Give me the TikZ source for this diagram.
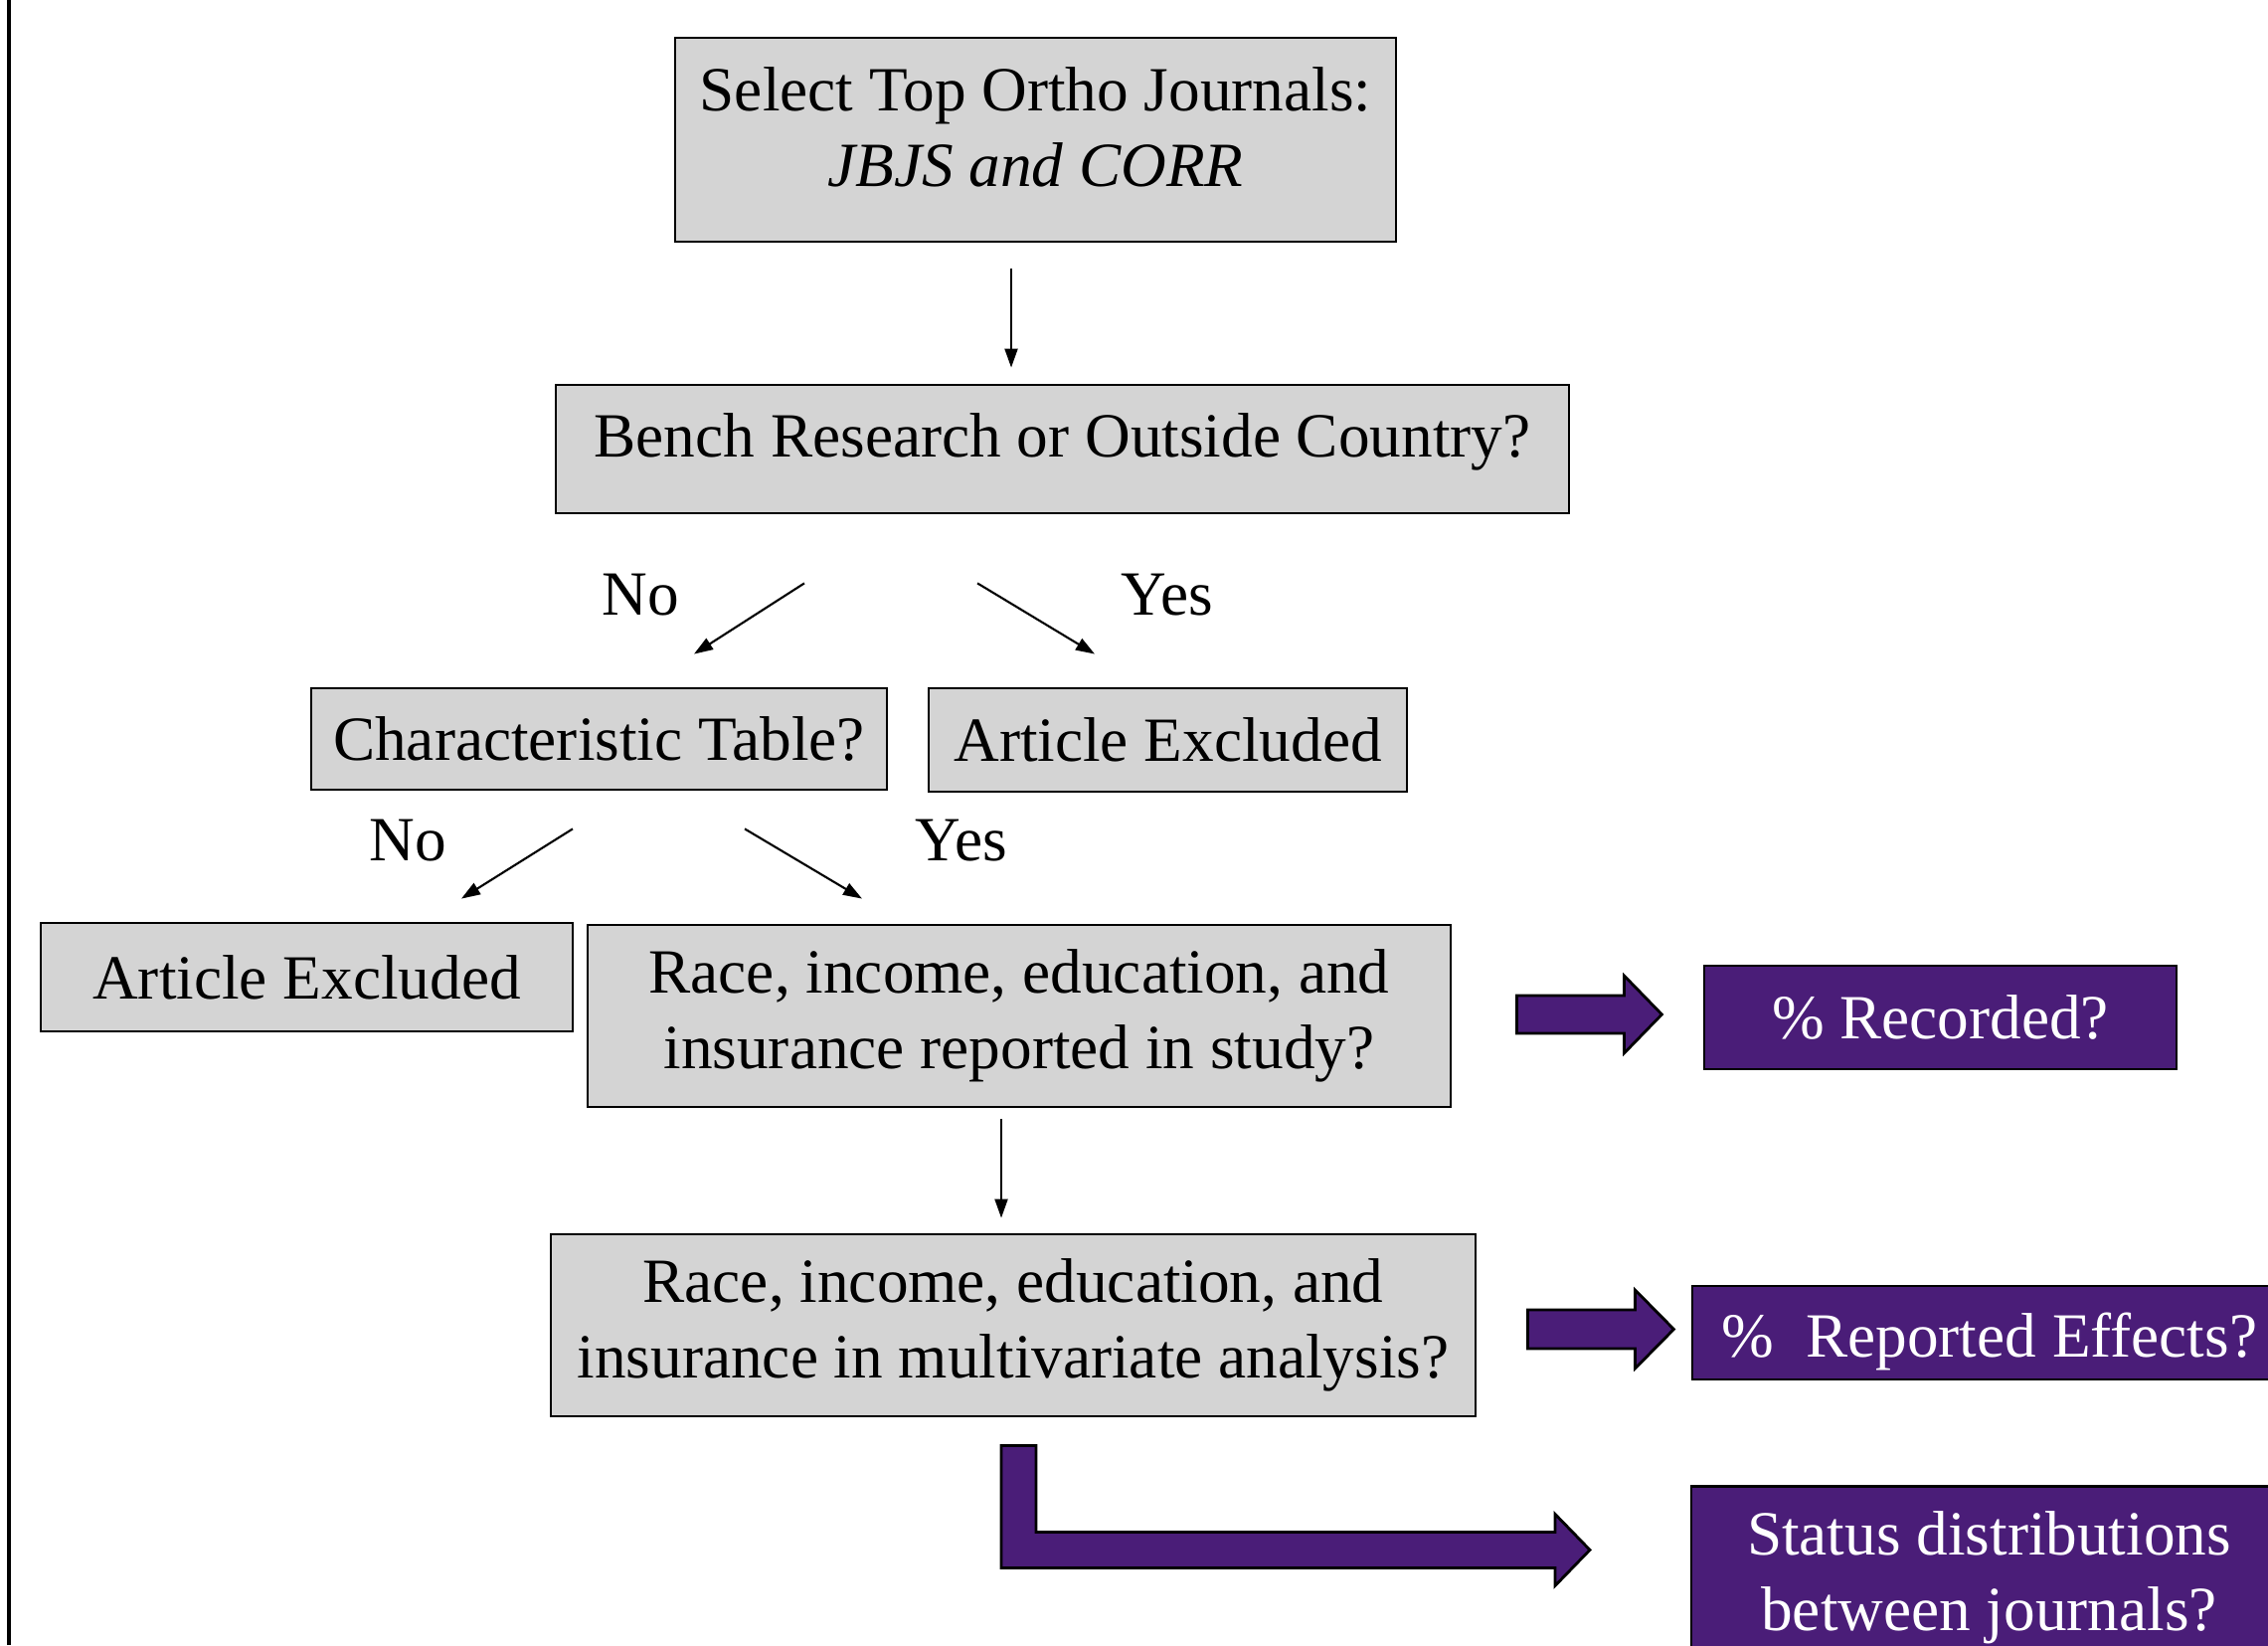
\documentclass[tikz,border=0pt]{standalone}
\usepackage{fontspec}
\setmainfont{Liberation Serif}
\usetikzlibrary{arrows.meta}
\definecolor{boxgray}{RGB}{212,212,212}
\definecolor{studypurple}{RGB}{74,29,120}

\begin{document}
\begin{tikzpicture}[
    font=\fontsize{18}{21.6}\selectfont,
    graybox/.style={draw,line width=0.8pt,fill=boxgray,inner sep=0pt,align=center},
    purplebox/.style={draw,line width=0.8pt,fill=studypurple,text=white,inner sep=0pt,align=center},
    thinarrow/.style={line width=0.6pt,-{Triangle[length=0.19cm,width=0.13cm]}},
    blockarrow/.style={draw,line width=0.8pt,fill=studypurple,line join=miter}
  ]
  \useasboundingbox (0,0) rectangle (22.81,16.54);
  \draw [line width=1.2pt] (0.09,0) -- (0.09,16.54);

  % grey flow boxes
  \node [graybox,minimum width=7.25cm,minimum height=2.05cm,text height=33.9pt,text depth=7.4pt]
     (journals) at (10.415,15.135)
     {Select Top Ortho Journals:\\ \textit{JBJS and CORR}};
  \node [graybox,minimum width=10.19cm,minimum height=1.29cm,text height=12.3pt,text depth=7.9pt]
     (bench) at (10.685,12.025)
     {Bench Research or Outside Country?};
  \node [graybox,minimum width=5.79cm,minimum height=1.02cm] (chartable) at (6.025,9.11)
     {Characteristic Table?};
  \node [graybox,minimum width=4.81cm,minimum height=1.04cm] (excluded1) at (11.745,9.10)
     {Article Excluded};
  \node [graybox,minimum width=5.35cm,minimum height=1.09cm] (excluded2) at (3.085,6.715)
     {Article Excluded};
  \node [graybox,minimum width=8.68cm,minimum height=1.83cm] (reported) at (10.25,6.325)
     {Race, income, education, and\\ insurance reported in study?};
  \node [graybox,minimum width=9.30cm,minimum height=1.83cm] (multivar) at (10.19,3.215)
     {Race, income, education, and\\ insurance in multivariate analysis?};

  % purple outcome boxes
  \node [purplebox,minimum width=4.75cm,minimum height=1.04cm] (recorded) at (19.515,6.31)
     {\% Recorded?};
  \node [purplebox,minimum width=5.98cm,minimum height=0.94cm,text height=17.9pt,text depth=3.9pt]
     (effects) at (20.01,3.14)
     {\%\ \ Reported Effects?};
  \node [purplebox,minimum width=5.99cm,minimum height=1.83cm] (status) at (20.005,0.68)
     {Status distributions\\ between journals?};

  % yes / no labels
  \node (no1) at (6.44,10.56) {No};
  \node (yes1) at (11.74,10.56) {Yes};
  \node (no2) at (4.10,8.09) {No};
  \node (yes2) at (9.67,8.09) {Yes};

  % thin arrows
  \draw [thinarrow] ([xshift=-0.245cm,yshift=-0.26cm]journals.south)
     -- ([xshift=-0.515cm,yshift=0.16cm]bench.north);
  \draw [thinarrow] ([xshift=-2.595cm,yshift=-0.69cm]bench.south)
     -- ([xshift=0.955cm,yshift=0.33cm]chartable.north);
  \draw [thinarrow] ([xshift=-0.855cm,yshift=-0.69cm]bench.south)
     -- ([xshift=-0.735cm,yshift=0.33cm]excluded1.north);
  \draw [thinarrow] ([xshift=-0.265cm,yshift=-0.38cm]chartable.south)
     -- ([xshift=1.555cm,yshift=0.23cm]excluded2.north);
  \draw [thinarrow] ([xshift=1.465cm,yshift=-0.38cm]chartable.south)
     -- ([xshift=-1.58cm,yshift=0.25cm]reported.north);
  \draw [thinarrow] ([xshift=-0.18cm,yshift=-0.11cm]reported.south)
     -- ([xshift=-0.12cm,yshift=0.15cm]multivar.north);

  % block arrows
  \draw [blockarrow] ([xshift=0.65cm,yshift=0.205cm]reported.east)
     -- ++(1.08,0) -- ++(0,0.2) -- ++(0.38,-0.39) -- ++(-0.38,-0.39)
     -- ++(0,0.2) -- ++(-1.08,0) -- cycle;
  \draw [blockarrow] ([xshift=0.51cm,yshift=0.155cm]multivar.east)
     -- ++(1.08,0) -- ++(0,0.2) -- ++(0.39,-0.395) -- ++(-0.39,-0.395)
     -- ++(0,0.2) -- ++(-1.08,0) -- cycle;
  \draw [blockarrow] ([xshift=-0.12cm,yshift=-0.28cm]multivar.south)
     -- ++(0.35,0) -- ++(0,-0.87) -- ++(5.22,0) -- ++(0,0.18)
     -- ++(0.35,-0.36) -- ++(-0.35,-0.36) -- ++(0,0.18) -- ++(-5.57,0) -- cycle;
\end{tikzpicture}
\end{document}
